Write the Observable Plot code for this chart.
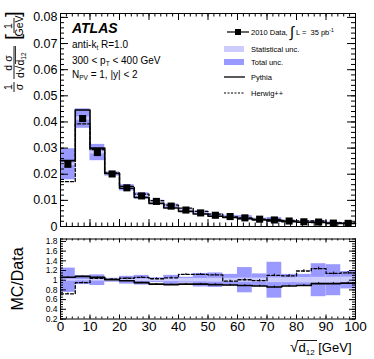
<!DOCTYPE html>
<html><head><meta charset="utf-8">
<script src="https://cdn.jsdelivr.net/npm/d3@7"></script>
<script src="https://cdn.jsdelivr.net/npm/@observablehq/plot@0.6"></script>
<style>
html,body{margin:0;padding:0;background:#fff;}
#chart{position:relative;width:374px;height:359px;}
#chart svg{display:block;}
</style></head><body><div id="chart"></div>
<script>
// ---- data ----
const binLow  = [0,5,10,15,20,25,30,35,40,45,50,55,60,65,70,75,80,85,90,95];
const binHigh = [5,10,15,20,25,30,35,40,45,50,55,60,65,70,75,80,85,90,95,100];
const dataValues   = [0.0238,0.0413,0.0283,0.0201,0.0148,0.0117,0.0096,0.0078,0.0063,0.0052,0.0043,0.0038,0.0033,0.0028,0.0025,0.0021,0.0018,0.0017,0.0013,0.0012];
const pythiaValues = [0.0252,0.0446,0.0300,0.0203,0.01465,0.0111,0.00883,0.0071,0.0058,0.00478,0.00391,0.00342,0.00294,0.00246,0.00215,0.00185,0.0016,0.00158,0.00121,0.00113];
const herwigValues = [0.01714,0.03924,0.02943,0.0205,0.01539,0.0124,0.00989,0.00819,0.00706,0.00582,0.00477,0.00372,0.00333,0.00277,0.00275,0.00229,0.00214,0.00211,0.00148,0.00138];
const pythiaRatio  = [1.06,1.08,1.06,1.01,0.99,0.95,0.92,0.91,0.92,0.92,0.91,0.90,0.89,0.88,0.86,0.88,0.89,0.93,0.93,0.94];
const herwigRatio  = [0.72,0.95,1.04,1.02,1.04,1.06,1.03,1.05,1.12,1.12,1.11,0.98,1.01,0.99,1.10,1.09,1.19,1.24,1.14,1.15];
const pythiaRatioErr = [0.01,0.01,0.01,0.01,0.01,0.012,0.012,0.012,0.014,0.014,0.015,0.015,0.016,0.016,0.018,0.018,0.02,0.02,0.02,0.022];
const herwigRatioErr = [0.015,0.015,0.015,0.015,0.016,0.016,0.018,0.018,0.02,0.02,0.02,0.022,0.022,0.024,0.024,0.026,0.026,0.028,0.028,0.03];
const totalUnc = [0.25,0.09,0.11,0.04,0.08,0.10,0.05,0.10,0.06,0.14,0.15,0.12,0.26,0.13,0.37,0.12,0.12,0.34,0.32,0.18];
const statUnc  = [0.02,0.015,0.02,0.02,0.025,0.025,0.03,0.03,0.035,0.035,0.04,0.04,0.045,0.045,0.05,0.05,0.055,0.06,0.06,0.065];
const topYTicks   = [0,0.01,0.02,0.03,0.04,0.05,0.06,0.07,0.08];
const ratioYTicks = [0.2,0.4,0.6,0.8,1.0,1.2,1.4,1.6,1.8];
const xTicks      = [0,10,20,30,40,50,60,70,80,90,100];

// ---- build tables ----
const bins = binLow.map((lo, i) => ({
  lo, hi: binHigh[i], mid: (lo + binHigh[i]) / 2,
  data: dataValues[i], pythia: pythiaValues[i], herwig: herwigValues[i],
  pr: pythiaRatio[i], hr: herwigRatio[i], pe: pythiaRatioErr[i], he: herwigRatioErr[i],
  tot: totalUnc[i], stat: statUnc[i]
}));
const step = (vals) => [...vals.map((v, i) => ({x: binLow[i], y: v})), {x: binHigh[binHigh.length-1], y: vals[vals.length-1]}];

const FONT = "'Liberation Sans', Arial, Helvetica, sans-serif";
const W = 374, ML = 60, MR = 19;
const PW = W - ML - MR;
const STAT = "#ccccff", TOT = "#9999ff";

function yTicksInside(vals, len) {
  return [
    Plot.tickY(vals, {y: d => d, insetRight: PW - len, stroke: "black"}),
    Plot.tickY(vals, {y: d => d, insetLeft: PW - len, stroke: "black"})
  ];
}
function xTicksInside(vals, len, ph) {
  return [
    Plot.tickX(vals, {x: d => d, insetTop: ph - len, stroke: "black"}),
    Plot.tickX(vals, {x: d => d, insetBottom: ph - len, stroke: "black"})
  ];
}

// ---- top panel ----
const TH = 232, TMT = 13, TMB = 6, TPH = TH - TMT - TMB;
const minorX = d3.range(0, 101, 2);
const topPlot = Plot.plot({
  width: W, height: TH, marginLeft: ML, marginRight: MR, marginTop: TMT, marginBottom: TMB,
  style: {fontFamily: FONT, background: "white", color: "black", overflow: "visible"},
  x: {domain: [0, 100], axis: null},
  y: {domain: [0, 0.0815]},
  marks: [
    Plot.rect(bins, {x1: "lo", x2: "hi", y1: d => d.data * (1 - d.tot), y2: d => d.data * (1 + d.tot), fill: TOT}),
    Plot.rect(bins, {x1: "lo", x2: "hi", y1: d => d.data * (1 - d.stat), y2: d => d.data * (1 + d.stat), fill: STAT}),
    Plot.line(step(herwigValues), {x: "x", y: "y", curve: "step-after", stroke: "black", strokeWidth: 1.3, strokeDasharray: "3,2"}),
    Plot.line(step(pythiaValues), {x: "x", y: "y", curve: "step-after", stroke: "black", strokeWidth: 1.6}),
    Plot.dot(bins, {x: "mid", y: "data", symbol: "square", r: 4, fill: "black", stroke: "none"}),
    ...yTicksInside(d3.range(0, 0.0815, 0.002), 4),
    ...yTicksInside(topYTicks, 8),
    ...xTicksInside(minorX, 3.5, TPH),
    ...xTicksInside(xTicks, 7, TPH),
    Plot.axisY({ticks: topYTicks, tickSize: 0, tickPadding: 3, fontSize: 12.5, label: null,
      tickFormat: d => d === 0 ? "0" : d.toFixed(2)}),
    Plot.frame({stroke: "black"})
  ]
});

// ---- ratio panel ----
const RH = 127, RMT = 6.5, RMB = 40.5, RPH = RH - RMT - RMB;
const ratioPlot = Plot.plot({
  width: W, height: RH, marginLeft: ML, marginRight: MR, marginTop: RMT, marginBottom: RMB,
  style: {fontFamily: FONT, background: "white", color: "black", overflow: "visible"},
  x: {domain: [0, 100]},
  y: {domain: [0.2, 1.85]},
  marks: [
    Plot.rect(bins, {x1: "lo", x2: "hi", y1: d => 1 - d.tot, y2: d => 1 + d.tot, fill: TOT}),
    Plot.rect(bins, {x1: "lo", x2: "hi", y1: d => 1 - d.stat, y2: d => 1 + d.stat, fill: STAT}),
    Plot.line(step(herwigRatio), {x: "x", y: "y", curve: "step-after", stroke: "black", strokeWidth: 1.3, strokeDasharray: "3,2"}),
    Plot.line(step(pythiaRatio), {x: "x", y: "y", curve: "step-after", stroke: "black", strokeWidth: 1.6}),
    Plot.ruleX(bins, {x: "mid", y1: d => d.hr - d.he, y2: d => d.hr + d.he, stroke: "black"}),
    Plot.ruleX(bins, {x: "mid", y1: d => d.pr - d.pe, y2: d => d.pr + d.pe, stroke: "black"}),
    ...yTicksInside(d3.range(0.2, 1.86, 0.05), 3),
    ...yTicksInside(ratioYTicks, 6),
    ...xTicksInside(minorX, 2, RPH),
    ...xTicksInside(xTicks, 4, RPH),
    Plot.axisY({ticks: ratioYTicks, tickSize: 0, tickPadding: 3, fontSize: 8.5, label: null,
      tickFormat: d => Math.abs(d - 1) < 1e-9 ? "1" : d.toFixed(1)}),
    Plot.axisX({ticks: xTicks, tickSize: 0, tickPadding: 2, fontSize: 13.5, label: null}),
    Plot.frame({stroke: "black"})
  ]
});

const chart = document.getElementById("chart");
chart.appendChild(topPlot);
chart.appendChild(ratioPlot);

// ---- annotations (top) ----
const st = d3.select(topPlot);
const ann = st.append("g").attr("font-family", FONT).attr("fill", "black").attr("text-anchor", "start");
ann.append("text").attr("x", 72).attr("y", 33).attr("font-size", 14).attr("font-weight", "bold").attr("font-style", "italic").text("ATLAS");
const t1 = ann.append("text").attr("x", 72).attr("y", 48).attr("font-size", 10);
t1.append("tspan").text("anti-k");
t1.append("tspan").attr("font-size", 6.5).attr("dy", 2).text("t");
t1.append("tspan").attr("dy", -2).text(" R=1.0");
const t2 = ann.append("text").attr("x", 72).attr("y", 64).attr("font-size", 10);
t2.append("tspan").text("300 < p");
t2.append("tspan").attr("font-size", 6.5).attr("dy", 2).text("T");
t2.append("tspan").attr("dy", -2).text(" < 400 GeV");
const t3 = ann.append("text").attr("x", 72).attr("y", 78).attr("font-size", 10);
t3.append("tspan").text("N");
t3.append("tspan").attr("font-size", 6.5).attr("dy", 2).text("PV");
t3.append("tspan").attr("dy", -2).text(" = 1, |y| < 2");

// legend
const lg = st.append("g").attr("font-family", FONT).attr("fill", "black").attr("font-size", 7.5).attr("text-anchor", "start");
lg.append("line").attr("x1", 227).attr("x2", 249).attr("y1", 32).attr("y2", 32).attr("stroke", "black").attr("stroke-width", 1.2);
lg.append("rect").attr("x", 235).attr("y", 29).attr("width", 6).attr("height", 6).attr("fill", "black");
const l1 = lg.append("text").attr("x", 251).attr("y", 34.5);
l1.append("tspan").text("2010 Data, ");
l1.append("tspan").attr("font-size", 15).attr("dy", 2.5).text("\u222B");
l1.append("tspan").attr("dy", -2.5).text(" L =  35 pb");
l1.append("tspan").attr("font-size", 5).attr("dy", -3).text("-1");
lg.append("rect").attr("x", 224).attr("y", 46).attr("width", 20).attr("height", 6).attr("fill", STAT);
lg.append("text").attr("x", 251).attr("y", 51.5).text("Statistical unc.");
lg.append("rect").attr("x", 224).attr("y", 59).attr("width", 20).attr("height", 6).attr("fill", TOT);
lg.append("text").attr("x", 251).attr("y", 64.5).text("Total unc.");
lg.append("line").attr("x1", 224).attr("x2", 245).attr("y1", 77).attr("y2", 77).attr("stroke", "black").attr("stroke-width", 1.3);
lg.append("text").attr("x", 251).attr("y", 79.5).text("Pythia");
lg.append("line").attr("x1", 224).attr("x2", 245).attr("y1", 93).attr("y2", 93).attr("stroke", "black").attr("stroke-width", 1.2).attr("stroke-dasharray", "2,1.5");
lg.append("text").attr("x", 251).attr("y", 95.5).text("Herwig++");

// y-axis label (rotated fractions)
const yl = st.append("g").attr("transform", "translate(14,93) rotate(-90)").attr("font-family", FONT).attr("fill", "black").attr("font-size", 10.5).attr("text-anchor", "start");
yl.append("text").attr("x", 6).attr("y", -2.5).attr("text-anchor", "middle").text("1");
yl.append("line").attr("x1", 1).attr("x2", 11).attr("y1", 0).attr("y2", 0).attr("stroke", "black").attr("stroke-width", 0.9);
yl.append("text").attr("x", 6).attr("y", 8.5).attr("text-anchor", "middle").text("\u03C3");
yl.append("text").attr("x", 30).attr("y", -2.5).attr("text-anchor", "middle").text("d \u03C3");
yl.append("line").attr("x1", 14).attr("x2", 47).attr("y1", 0).attr("y2", 0).attr("stroke", "black").attr("stroke-width", 0.9);
const den = yl.append("text").attr("x", 15).attr("y", 9.5);
den.append("tspan").text("d");
den.append("tspan").attr("font-size", 12).text("\u221A");
den.append("tspan").text("d");
den.append("tspan").attr("font-size", 6.5).attr("dy", 2).text("12");
yl.append("line").attr("x1", 29).attr("x2", 47).attr("y1", 1.5).attr("y2", 1.5).attr("stroke", "black").attr("stroke-width", 0.8);
yl.append("text").attr("x", 53).attr("y", 6).attr("font-size", 21).text("[");
yl.append("text").attr("x", 67).attr("y", -2.5).attr("text-anchor", "middle").text("1");
yl.append("line").attr("x1", 60).attr("x2", 75).attr("y1", 0).attr("y2", 0).attr("stroke", "black").attr("stroke-width", 0.9);
yl.append("text").attr("x", 67).attr("y", 8.5).attr("text-anchor", "middle").text("GeV");
yl.append("text").attr("x", 76).attr("y", 6).attr("font-size", 21).text("]");

// ---- annotations (ratio) ----
const sr = d3.select(ratioPlot);
sr.append("text").attr("transform", "translate(23,47) rotate(-90)").attr("text-anchor", "middle")
  .attr("font-family", FONT).attr("font-size", 16).attr("fill", "black").text("MC/Data");
const xl = sr.append("g").attr("font-family", FONT).attr("fill", "black").attr("text-anchor", "start");
xl.append("text").attr("x", 290).attr("y", 120).attr("font-size", 15).text("\u221A");
xl.append("line").attr("x1", 297).attr("x2", 317).attr("y1", 108.5).attr("y2", 108.5).attr("stroke", "black").attr("stroke-width", 0.9);
const xt = xl.append("text").attr("x", 298.5).attr("y", 120).attr("font-size", 13);
xt.append("tspan").text("d");
xt.append("tspan").attr("font-size", 8).attr("dy", 3).text("12");
xt.append("tspan").attr("dy", -3).text(" [GeV]");
</script></body></html>
